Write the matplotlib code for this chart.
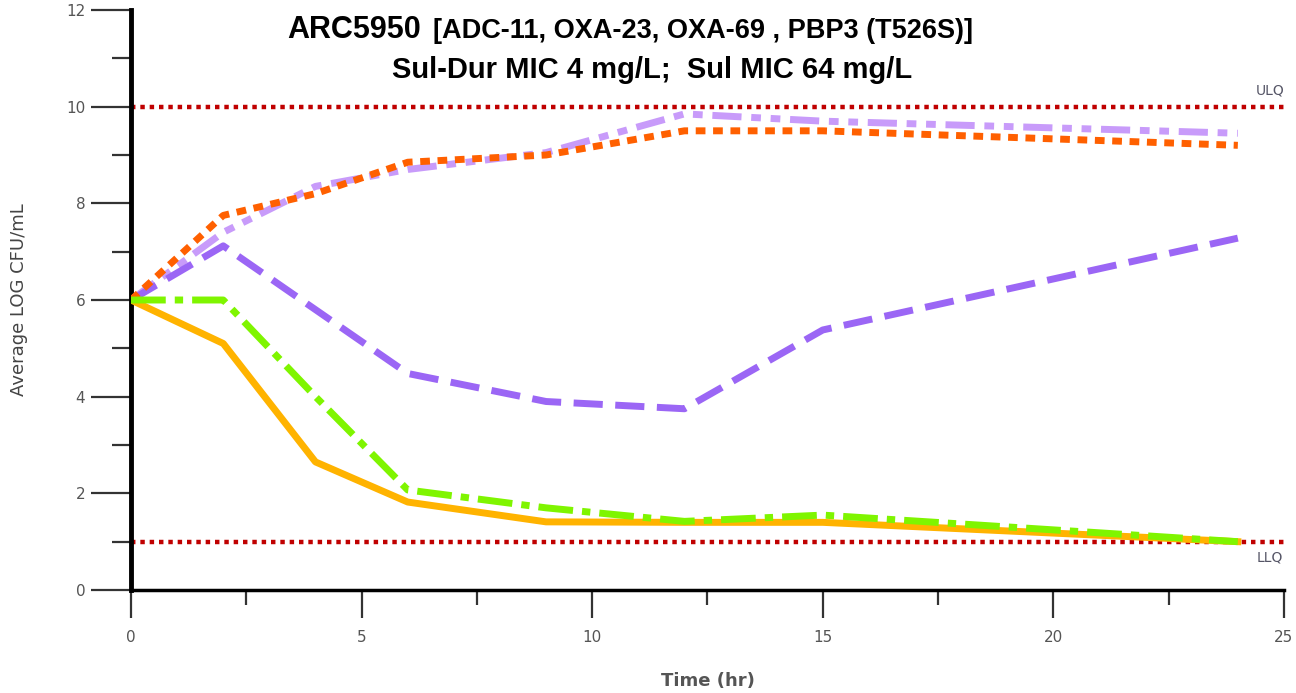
import matplotlib
matplotlib.use("Agg")
from matplotlib import pyplot as plt
from matplotlib.ticker import MultipleLocator

# Time points (hr)
time_hr = [0, 2, 4, 6, 9, 12, 15, 24]

# Average LOG CFU/mL for each regimen
orange_solid = [6.0, 5.1, 2.65, 1.82, 1.41, 1.4, 1.4, 1.0]
green_dashdot = [6.0, 6.0, 4.0, 2.07, 1.7, 1.42, 1.55, 1.0]
purple_dash = [6.0, 7.12, 5.8, 4.48, 3.9, 3.75, 5.38, 7.28]
lilac_dashdotdot = [6.0, 7.4, 8.35, 8.7, 9.05, 9.85, 9.7, 9.45]
red_dotted = [6.0, 7.75, 8.2, 8.85, 9.0, 9.5, 9.5, 9.2]

# Quantification limits
ulq = 10
llq = 1

title_main = "ARC5950"
title_genes = "[ADC-11, OXA-23, OXA-69 , PBP3 (T526S)]"
title_mic = "Sul-Dur MIC 4 mg/L;  Sul MIC 64 mg/L"

narrow = ["Liberation Sans Narrow", "Liberation Sans", "DejaVu Sans"]

fig = plt.figure(figsize=(12.96, 6.93), dpi=100)
ax = fig.add_axes([0.1011, 0.1486, 0.8896, 0.837])

# Limits
ax.hlines([ulq, llq], 0, 25, colors="#C00000", linewidth=3.2,
          linestyles=(0, (1.0, 1.1)), zorder=2)

lw = 5
ax.plot(time_hr, lilac_dashdotdot, color="#C89BFA", lw=lw,
        dashes=(4.2, 1.4, 1.4, 1.4, 1.4, 1.4), zorder=3)
ax.plot(time_hr, red_dotted, color="#FF6000", lw=lw, dashes=(1.4, 1.1), zorder=4)
ax.plot(time_hr, purple_dash, color="#9B66F5", lw=lw, dashes=(4.2, 1.8), zorder=3)
ax.plot(time_hr, orange_solid, color="#FFB300", lw=lw, zorder=3)
ax.plot(time_hr, green_dashdot, color="#7FF500", lw=lw,
        dashes=(5.0, 1.3, 1.2, 1.3), zorder=4)

ax.set_xlim(0, 25)
ax.set_ylim(0, 12)

ax.xaxis.set_major_locator(MultipleLocator(5))
ax.xaxis.set_minor_locator(MultipleLocator(2.5))
ax.yaxis.set_major_locator(MultipleLocator(2))
ax.yaxis.set_minor_locator(MultipleLocator(1))

for s in ["top", "right"]:
    ax.spines[s].set_visible(False)
ax.spines["left"].set_linewidth(3.5)
ax.spines["bottom"].set_linewidth(2.5)

ax.tick_params(axis="y", which="major", length=29, width=1.6, colors="#333333",
               labelcolor="#555555", labelsize=11, pad=4)
ax.tick_params(axis="y", which="minor", length=14, width=1.6, colors="#333333")
ax.tick_params(axis="x", which="major", length=20, width=1.6, colors="#333333",
               labelcolor="#555555", labelsize=11, pad=9)
ax.tick_params(axis="x", which="minor", length=11, width=1.6, colors="#333333")

ax.set_xlabel("Time (hr)", fontsize=13, color="#555555", fontweight="bold", labelpad=19)
ax.set_ylabel("Average LOG CFU/mL", fontsize=13, color="#444444", labelpad=27)

ax.text(24.7, ulq + 0.18, "ULQ", fontsize=10, color="#555566", ha="center", va="bottom")
ax.text(24.7, llq - 0.18, "LLQ", fontsize=10, color="#555566", ha="center", va="top")

# Title: main id, then the genes right after it
t1 = fig.text(0.2215, 0.957, title_main, family=narrow, fontweight="bold", fontsize=22,
              ha="left", va="center")
ax.annotate(title_genes, xy=(1, 0.5), xycoords=t1, xytext=(9, -1),
            textcoords="offset points", family=narrow, fontweight="bold",
            fontsize=19.5, ha="left", va="center", annotation_clip=False)
fig.text(0.503, 0.899, title_mic, family=narrow, fontweight="bold", fontsize=21,
         ha="center", va="center")

plt.savefig("out.png", dpi=100, facecolor="white")
